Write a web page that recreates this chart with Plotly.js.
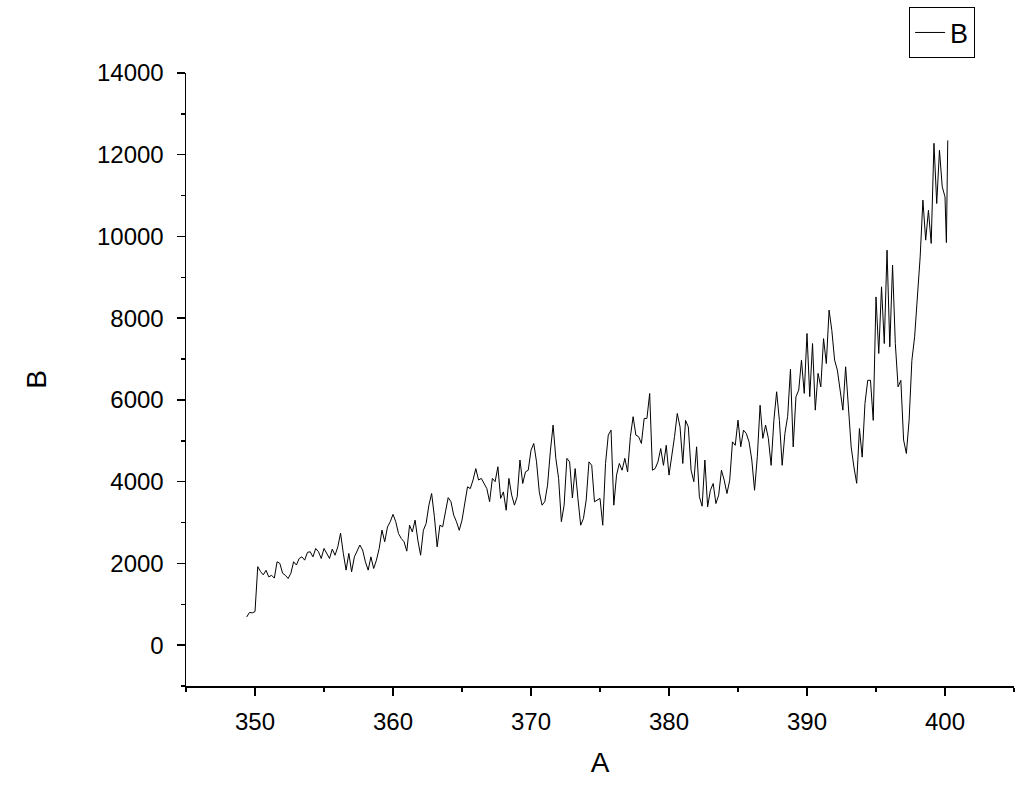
<!DOCTYPE html>
<html>
<head>
<meta charset="utf-8">
<script src="https://cdn.plot.ly/plotly-3.0.1.min.js"></script>
<style>html,body{margin:0;padding:0;background:#fff;}#chart{width:1036px;height:796px;}</style>
</head>
<body>
<div id="chart"></div>
<script>
// Wavelength (A) and intensity (B) in 10-unit segments
const A1 = [349.4,349.6,349.8,350.0,350.2,350.4,350.6,350.8,351.0,351.2,351.4,351.6,351.8,352.0,352.2,352.4,352.6,352.8,353.0,353.2,353.4,353.6,353.8,354.0,354.2,354.4,354.6,354.8,355.0,355.2,355.4,355.6,355.8,356.0,356.2,356.4,356.6,356.8,357.0,357.2,357.4,357.6,357.8,358.0,358.2,358.4,358.6,358.8,359.0,359.2,359.4,359.6,359.8,360.0];
const B1 = [690,800,790,820,1920,1800,1720,1830,1670,1710,1640,2040,2000,1760,1710,1630,1760,2040,1960,2120,2160,2080,2270,2285,2160,2365,2285,2120,2365,2245,2120,2350,2200,2405,2740,2245,1835,2245,1795,2160,2325,2450,2325,2040,1835,2160,1875,2080,2365,2815,2530,2890,3020,3200];

const A2 = [360.2,360.4,360.6,360.8,361.0,361.2,361.4,361.6,361.8,362.0,362.2,362.4,362.6,362.8,363.0,363.2,363.4,363.6,363.8,364.0,364.2,364.4,364.6,364.8,365.0,365.2,365.4,365.6,365.8,366.0,366.2,366.4,366.6,366.8,367.0,367.2,367.4,367.6,367.8,368.0,368.2,368.4,368.6,368.8,369.0,369.2,369.4,369.6,369.8,370.0];
const B2 = [3020,2730,2610,2530,2300,2935,2770,3059,2570,2200,2810,2975,3425,3710,3140,2405,2935,2895,3260,3610,3510,3180,3020,2810,3059,3425,3874,3830,4040,4320,4040,4080,3955,3830,3510,4080,4000,4365,3590,3750,3300,4080,3670,3425,3630,4530,3955,4240,4280,4770];

const A3 = [370.2,370.4,370.6,370.8,371.0,371.2,371.4,371.6,371.8,372.0,372.2,372.4,372.6,372.8,373.0,373.2,373.4,373.6,373.8,374.0,374.2,374.4,374.6,374.8,375.0,375.2,375.4,375.6,375.8,376.0,376.2,376.4,376.6,376.8,377.0,377.2,377.4,377.6,377.8,378.0,378.2,378.4,378.6,378.8,379.0,379.2,379.4,379.6,379.8,380.0];
const B3 = [4935,4485,3750,3425,3510,3915,4731,5385,4570,4080,3020,3425,4570,4485,3600,4320,3590,2935,3100,3550,4485,4400,3507,3550,3590,2935,4445,5139,5260,3425,4160,4445,4280,4570,4240,5100,5590,5139,5100,4935,5547,5547,6158,4280,4323,4485,4810,4400,4890,4160];

const A4 = [380.2,380.4,380.6,380.8,381.0,381.2,381.4,381.6,381.8,382.0,382.2,382.4,382.6,382.8,383.0,383.2,383.4,383.6,383.8,384.0,384.2,384.4,384.6,384.8,385.0,385.2,385.4,385.6,385.8,386.0,386.2,386.4,386.6,386.8,387.0,387.2,387.4,387.6,387.8,388.0,388.2,388.4,388.6,388.8,389.0,389.2,389.4,389.6,389.8,390.0];
const B4 = [4610,5100,5669,5340,4445,5500,5340,4280,4000,4853,3630,3400,4530,3385,3790,3955,3465,3670,4280,4037,3710,4037,4975,4890,5505,4853,5261,5180,4975,4530,3790,4610,5870,5060,5385,5060,4400,5500,6200,5500,4400,5180,5600,6750,4850,6080,6240,6975,6160,7626];

const A5 = [390.2,390.4,390.6,390.8,391.0,391.2,391.4,391.6,391.8,392.0,392.2,392.4,392.6,392.8,393.0,393.2,393.4,393.6,393.8,394.0,394.2,394.4,394.6,394.8,395.0,395.2,395.4,395.6,395.8,396.0,396.2,396.4,396.6,396.8,397.0,397.2,397.4,397.6,397.8,398.0,398.2,398.4,398.6,398.8,399.0,399.2,399.4,399.6,399.8,400.0,400.1,400.2];
const B5 = [6080,7380,5750,6650,6320,7500,6890,8197,7700,6975,6730,6240,5750,6811,5900,4850,4360,3960,5300,4600,5913,6480,6480,5500,8520,7137,8768,7380,9665,7300,9300,7380,6320,6480,5020,4690,5505,6970,7545,8440,9500,10890,9910,10640,9830,12280,10807,12110,11215,10970,9850,12350];

const seriesName = "B";
const xTitle = "A";
const yTitle = "B";

const xs = [].concat(A1, A2, A3, A4, A5);
const ys = [].concat(B1, B2, B3, B4, B5);

const font = "Liberation Sans, Arial, sans-serif";

const trace = {
  x: xs, y: ys, type: "scatter", mode: "lines", name: seriesName,
  line: {color: "#000", width: 1}, showlegend: true
};

const axisCommon = {
  showline: true, linecolor: "#000", linewidth: 1.5, mirror: false,
  showgrid: false, zeroline: false,
  ticks: "outside", ticklen: 8, tickwidth: 1.5, tickcolor: "#000",
  tickformat: "d", automargin: false,
  tickfont: {family: font, size: 24, color: "#000"}
};

const layout = {
  width: 1036, height: 796,
  paper_bgcolor: "#fff", plot_bgcolor: "#fff",
  margin: {l: 186, r: 22, t: 73, b: 110, autoexpand: false},
  font: {family: font, color: "#000"},
  showlegend: true,
  legend: {
    x: 0.953, xanchor: "right", y: 1.107, yanchor: "top",
    bordercolor: "#000", borderwidth: 1, bgcolor: "#fff",
    font: {family: font, size: 27, color: "#000"},
    itemwidth: 30
  },
  xaxis: Object.assign({}, axisCommon, {
    range: [345, 405], dtick: 10, tick0: 0,
    minor: {dtick: 5, tick0: 0, ticks: "outside", ticklen: 4, tickwidth: 1.5, tickcolor: "#000"},
    ticklabelstandoff: 6,
    title: {text: xTitle, font: {family: font, size: 28, color: "#000"}, standoff: 18}
  }),
  yaxis: Object.assign({}, axisCommon, {
    range: [-1000, 14000], dtick: 2000, tick0: 0,
    minor: {dtick: 1000, tick0: 0, ticks: "outside", ticklen: 4, tickwidth: 1.5, tickcolor: "#000"},
    ticklabelstandoff: 8,
    title: {text: yTitle, font: {family: font, size: 28, color: "#000"}, standoff: 42}
  })
};

Plotly.newPlot("chart", [trace], layout, {displayModeBar: false, staticPlot: true});
</script>
</body>
</html>
